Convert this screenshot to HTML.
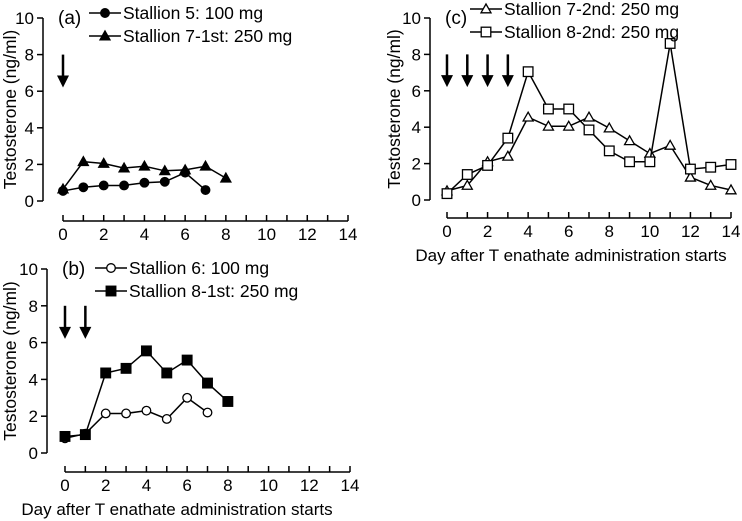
<!DOCTYPE html>
<html><head><meta charset="utf-8"><style>
body{margin:0;background:#fff}
svg{display:block;font-family:"Liberation Sans",Arial,sans-serif}
</style></head><body>
<svg id="chart" width="742" height="521" viewBox="0 0 742 521" xmlns="http://www.w3.org/2000/svg"></svg>
<script>
const days = [0,1,2,3,4,5,6,7,8,9,10,11,12,13,14];
const xTicks = [0,2,4,6,8,10,12,14];
const yTicks = [0,2,4,6,8,10];
const s5 = [0.55,0.75,0.85,0.85,1.0,1.05,1.55,0.6];
const s7a = [0.65,2.15,2.05,1.8,1.9,1.65,1.7,1.9,1.25];
const s6 = [0.8,1.05,2.15,2.15,2.3,1.85,3.0,2.2];
const s8a = [0.9,1.0,4.35,4.6,5.55,4.35,5.05,3.8,2.8];
const s7b = [0.5,0.8,2.1,2.4,4.55,4.05,4.05,4.55,3.95,3.25,2.55,3.0,1.25,0.8,0.55];
const s8b = [0.35,1.4,1.9,3.4,7.05,5.0,5.0,3.85,2.7,2.1,2.1,8.6,1.7,1.8,1.95];
const arrowsA = [0], arrowsB = [0,1], arrowsC = [0,1,2,3];

const NS="http://www.w3.org/2000/svg";
const svg=document.getElementById('chart');
function mk(tag,attrs,parent){const e=document.createElementNS(NS,tag);for(const k in attrs)e.setAttribute(k,attrs[k]);(parent||svg).appendChild(e);return e;}
function marker(g,type,x,y){
  let e;
  if(type==='circle'||type==='ocircle') e=mk('circle',{cx:x,cy:y,r:4.3,fill:type==='circle'?'#000':'#fff',stroke:'#000','stroke-width':1.3},g);
  else if(type==='square'||type==='osquare') e=mk('rect',{x:x-4.8,y:y-4.8,width:9.6,height:9.6,fill:type==='square'?'#000':'#fff',stroke:'#000','stroke-width':1.3},g);
  else e=mk('polygon',{points:`${x},${y-5} ${x-5},${y+3.8} ${x+5},${y+3.8}`,fill:type==='tri'?'#000':'#fff',stroke:'#000','stroke-width':1.3},g);
  
  
}
function panel(p){
  const g=mk('g',{});
  
  
  const xs=d=>p.x0+(p.x14-p.x0)*d/14;
  const ys=v=>p.y0+(p.y10-p.y0)*v/10;
  const ya=mk('line',{x1:p.yax,y1:ys(10),x2:p.yax,y2:ys(0),stroke:'#000','stroke-width':1.5},g);
  
  yTicks.forEach(v=>{
    mk('line',{x1:p.yax-6,y1:ys(v),x2:p.yax,y2:ys(v),stroke:'#000','stroke-width':1.5},g);
    const t=mk('text',{x:p.yax-9,y:ys(v)+6,'text-anchor':'end','font-size':17},g);t.textContent=v;
    
  });
  const xa=mk('line',{x1:xs(0),y1:p.xay,x2:xs(14),y2:p.xay,stroke:'#000','stroke-width':1.5},g);
  
  days.forEach(d=>mk('line',{x1:xs(d),y1:p.xay-6,x2:xs(d),y2:p.xay,stroke:'#000','stroke-width':1.5},g));
  xTicks.forEach(d=>{const t=mk('text',{x:xs(d),y:p.xay+19,'text-anchor':'middle','font-size':17},g);t.textContent=d;
    });
  const yt=mk('text',{x:0,y:0,'text-anchor':'middle','font-size':17.5,transform:`translate(${p.ytx},${ys(5)}) rotate(-90)`},g);
  yt.textContent='Testosterone (ng/ml)';
  if(p.xtx){const xt=mk('text',{x:p.xtx,y:p.xay+43,'text-anchor':'middle','font-size':17},g);xt.textContent='Day after T enathate administration starts';
    }
  const lab=mk('text',{x:p.yax+15,y:ys(10)+6,'font-size':19},g);lab.textContent='('+p.id+')';
  
  p.arrows.forEach(d=>{
    const a=mk('g',{},g);
    const x=xs(d),top=ys(8),tip=ys(6.2);
    mk('line',{x1:x,y1:top,x2:x,y2:tip-10,stroke:'#000','stroke-width':2.5},a);
    mk('polygon',{points:`${x-6},${tip-12} ${x+6},${tip-12} ${x},${tip}`,fill:'#000'},a);
  });
  p.series.forEach((s,i)=>{
    const sg=mk('g',{},g);
    mk('polyline',{points:s.data.map((v,d)=>xs(d)+','+ys(v)).join(' '),fill:'none',stroke:'#000','stroke-width':1.5},sg);
    s.data.forEach((v,d)=>marker(sg,s.m,xs(d),ys(v)));
    const lg=mk('g',{},g);
    const ly=p.legY+i*23;
    mk('line',{x1:p.legX,y1:ly,x2:p.legX+32,y2:ly,stroke:'#000','stroke-width':1.5},lg);
    marker(lg,s.m,p.legX+16,ly);
    const t=mk('text',{x:p.legX+34,y:ly+6,'font-size':17.5},lg);t.textContent=s.name;
  });
}
panel({id:'a',x0:63,x14:348,y0:201,y10:18,yax:43,xay:221,ytx:16,legX:89,legY:13,arrows:arrowsA,
  series:[{name:'Stallion 5: 100 mg',data:s5,m:'circle'},{name:'Stallion 7-1st: 250 mg',data:s7a,m:'tri'}]});
panel({id:'b',x0:65,x14:350,y0:453,y10:269,yax:47,xay:472,ytx:16,xtx:177,legX:95,legY:268,arrows:arrowsB,
  series:[{name:'Stallion 6: 100 mg',data:s6,m:'ocircle'},{name:'Stallion 8-1st: 250 mg',data:s8a,m:'square'}]});
panel({id:'c',x0:447,x14:731,y0:200,y10:18,yax:430,xay:218,ytx:400,xtx:571,legX:470,legY:9,arrows:arrowsC,
  series:[{name:'Stallion 7-2nd: 250 mg',data:s7b,m:'otri'},{name:'Stallion 8-2nd: 250 mg',data:s8b,m:'osquare'}]});
</script>
</body></html>
